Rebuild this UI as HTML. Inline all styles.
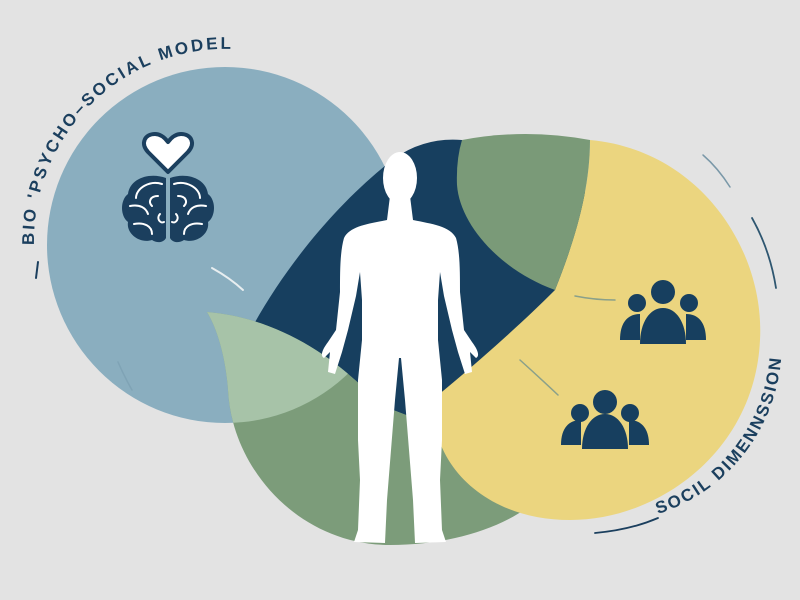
<!DOCTYPE html>
<html><head><meta charset="utf-8"><style>
html,body{margin:0;padding:0;background:#e3e3e3;overflow:hidden;width:800px;height:600px}
svg{display:block}
text{font-family:"Liberation Sans",sans-serif;font-weight:bold;fill:#1b3f5e}
</style></head><body>
<svg width="800" height="600" viewBox="0 0 800 600" xmlns="http://www.w3.org/2000/svg">
<defs>
<clipPath id="blueC"><circle cx="225" cy="245" r="178"/></clipPath>
</defs>
<rect width="800" height="600" fill="#e3e3e3"/>
<circle cx="225" cy="245" r="178" fill="#8aaebf"/>
<!-- navy -->
<path d="M248 335 C285 265 340 200 395 158 Q425 137 462 140 L585 145 L585 440 L470 440 L380 405 C340 360 290 330 248 335 Z" fill="#173f5f"/>
<!-- green bottom -->
<path d="M207 312 C280 318 340 360 380 405 C420 420 470 440 560 470 C540 515 470 545 390 545 C300 545 232 470 228 390 C226 360 218 330 207 312 Z" fill="#7c9c7a"/>
<path d="M207 312 C280 318 340 360 380 405 C420 420 470 440 560 470 C540 515 470 545 390 545 C300 545 232 470 228 390 C226 360 218 330 207 312 Z" fill="#a7c3a8" clip-path="url(#blueC)"/>
<!-- yellow -->
<path d="M590 140 C700 150 765 250 760 340 C755 450 660 520 570 520 C490 520 432 470 432 400 C475 365 520 325 555 290 C575 240 590 190 590 140 Z" fill="#ebd57f"/>
<!-- green top -->
<path d="M462 140 Q525 128 590 140 C590 190 575 240 555 290 C500 270 460 225 457 185 Q456 160 462 140 Z" fill="#7a9a78"/>
<g fill="none" stroke-linecap="round">
<path d="M212 268 Q230 278 243 290" stroke="#e8eef0" stroke-width="2"/>
<path d="M118 362 Q124 376 132 390" stroke="#7fa3b5" stroke-width="1.5"/>
<path d="M575 296 Q595 300 615 300" stroke="#8aa08a" stroke-width="1.5"/>
<path d="M520 360 Q540 378 558 395" stroke="#8aa08a" stroke-width="1.5"/>
<path d="M703 155 Q718 168 730 187" stroke="#7a98a8" stroke-width="1.5"/>
<path d="M752 218 Q770 250 776 288" stroke="#2e5670" stroke-width="1.8"/>
<path d="M595 533 Q630 530 658 518" stroke="#1b3f5e" stroke-width="1.8"/>
<path d="M38 262 L36 278" stroke="#1b3f5e" stroke-width="2"/>
</g>
<path id="arc1" d="M34 245 A192 192 0 0 1 260 52" fill="none"/>
<text font-size="17" letter-spacing="2.6"><textPath href="#arc1">BIO 'PSYCHO–SOCIAL MODEL</textPath></text>
<path id="arc2" d="M658 514 A178 178 0 0 0 776 300" fill="none"/>
<text font-size="17" letter-spacing="2.1"><textPath href="#arc2">SOCIL DIMENNSSION</textPath></text>
<!-- heart -->
<path d="M168 172 L148 152 C140 143 145 134 155 134 C161 134 165 138 168 142 C171 138 175 134 181 134 C191 134 196 143 188 152 Z" fill="#fff" stroke="#1b3f5e" stroke-width="4" stroke-linejoin="round"/>
<!-- brain -->
<g>
<path d="M166 178 C150 172 130 178 128 194 C120 200 120 216 128 222 C126 234 140 244 152 240 C158 244 164 242 166 238 Z" fill="#1b3f5e"/>
<path d="M170 178 C186 172 206 178 208 194 C216 200 216 216 208 222 C210 234 196 244 184 240 C178 244 172 242 170 238 Z" fill="#1b3f5e"/>
<g fill="none" stroke="#fff" stroke-width="2" stroke-linecap="round">
<path d="M162 184 C150 180 136 188 136 198 M130 206 C140 204 146 208 148 214 M134 224 C144 222 152 226 152 234 M158 196 C150 196 148 202 152 206 M160 214 C156 218 160 224 164 222"/>
<path d="M174 184 C186 180 200 188 200 198 M206 206 C196 204 190 208 188 214 M202 224 C192 222 184 226 184 234 M178 196 C186 196 188 202 184 206 M176 214 C180 218 176 224 172 222"/>
</g>
</g>
<!-- people -->
<g fill="#173f5f">
<circle cx="663" cy="292" r="12"/>
<circle cx="637" cy="303" r="9"/>
<circle cx="689" cy="303" r="9"/>
<path d="M620 340 C620 322 628 314 640 314 L640 340 Z"/>
<path d="M706 340 C706 322 698 314 686 314 L686 340 Z"/>
<path d="M640 344 C640 322 650 308 663 308 C676 308 686 322 686 344 Z"/>
</g>
<g fill="#173f5f">
<circle cx="605" cy="402" r="12"/>
<circle cx="580" cy="413" r="9"/>
<circle cx="630" cy="413" r="9"/>
<path d="M561 445 C561 428 569 420 581 420 L581 445 Z"/>
<path d="M649 445 C649 428 641 420 629 420 L629 445 Z"/>
<path d="M582 449 C582 428 592 414 605 414 C618 414 628 428 628 449 Z"/>
</g>
<!-- figure -->
<g fill="#ffffff">
<ellipse cx="400" cy="178" rx="17" ry="26"/>
<path d="M390 196 L410 196 L413 220 C432 224 450 226 456 238 C460 252 460 272 460 292 L464 330 L472 342 C478 350 480 356 476 358 L470 352 L472 372 L465 374 L458 352 L452 330 L444 296 L440 272 L438 300 L438 340 L442 380 L442 440 L440 480 L442 530 L446 542 L415 543 L413 500 L409 450 L405 400 L401 358 L399 358 L395 400 L391 450 L387 500 L385 543 L354 542 L358 530 L360 480 L358 440 L358 380 L362 340 L362 300 L360 272 L356 296 L348 330 L342 352 L335 374 L328 372 L330 352 L324 358 C320 356 322 350 328 342 L336 330 L340 292 C340 272 340 252 344 238 C350 226 368 224 387 220 Z"/>
</g>
</svg>
</body></html>
